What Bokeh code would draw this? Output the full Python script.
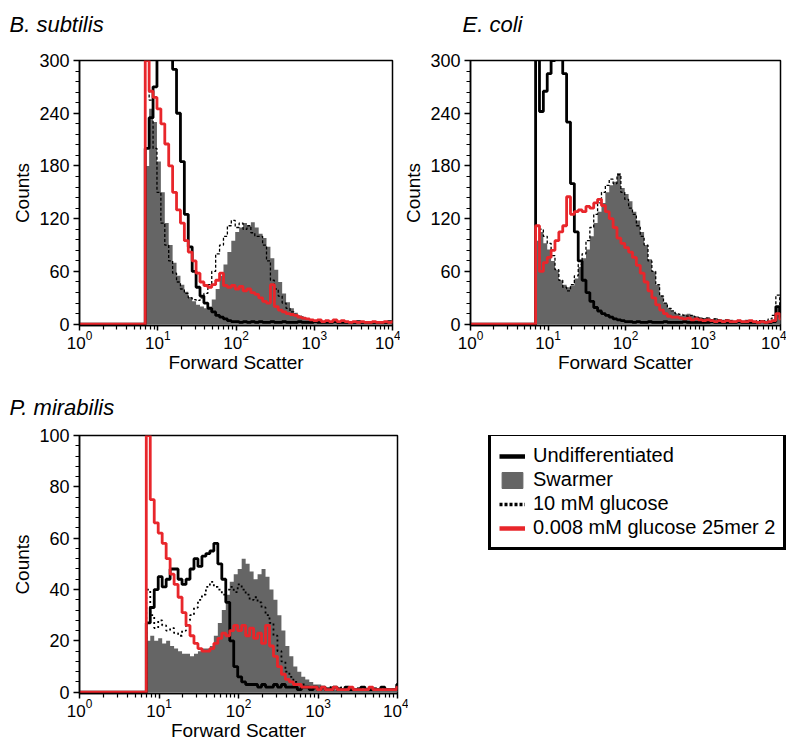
import numpy as np
from bokeh.plotting import figure
from bokeh.layouts import row, column
from bokeh.models import (Range1d, SingleIntervalTicker, FixedTicker, Legend,
                          LegendItem, Title)
from bokeh.embed import file_html
from bokeh.resources import INLINE

# ---------------- data ----------------
# histogram channels (log10 of forward scatter): first channel edge and channel width
channel_start_log = 0.84
channel_width_log = 0.05
acq_min = 1.0  # 10^0, start of acquisition range (counts are zero below the threshold)
decades = [1, 10, 100, 1000, 10000]

titles = ["B. subtilis", "E. coli", "P. mirabilis"]
series_names = ["Undifferentiated", "Swarmer", "10 mM glucose", "0.008 mM glucose 25mer 2"]

bs_undiff = [200,235,270,310,320,325,315,290,240,185, 125,88,60,42,32,24,18,14,10,8,
             6,4,3,3,2,3,2,3,2,3, 2,2,3,2,2,3,2,2,2,3, 2,2,2,3,2,2,2,2,3,2,
             2,2,2,2,3,2,2,2,2,2, 2,2,3,2]
bs_swarmer = [180,245,230,185,150,115,90,70,55,45, 37,31,26,22,20,18,20,28,40,55,
              68,82,95,105,110,115,112,116,110,103, 98,88,75,62,48,35,25,18,13,10,
              8,6,5,4,3,3,2,3,2,2, 3,2,2,2,3,2,2,2,2,2, 2,2,2,2]
bs_glu10 = [310,255,200,150,115,90,72,58,48,40, 35,30,28,27,30,35,45,60,80,90,
            100,112,118,110,115,108,112,104,100,100, 90,72,50,40,32,24,18,14,11,9,
            8,6,5,4,3,3,4,3,2,3, 2,3,2,2,2,3,2,2,2,2, 2,2,2,2]
bs_glu008 = [300,265,258,245,228,205,180,150,130,115, 95,82,72,58,48,44,42,45,50,58,
             44,42,44,40,43,38,40,36,34,30, 26,24,45,20,16,14,12,11,10,8,
             7,6,5,4,5,3,4,3,5,3, 4,3,2,3,2,3,2,2,3,2, 2,3,2,3]

ec_undiff = [320,242,265,285,300,310,305,285,230,160, 105,72,50,36,26,19,15,12,10,8,
             6,5,4,3,3,2,3,2,2,3, 2,2,2,3,2,2,2,2,3,2, 2,2,2,2,2,3,2,2,2,2,
             2,2,3,2,2,2,2,2,3,2, 2,3,20,8]
ec_swarmer = [95,105,92,85,72,62,50,45,42,44, 52,65,75,85,100,115,128,138,150,158,
              162,172,155,148,140,128,118,105,90,74, 60,45,33,24,18,14,12,10,11,12,
              10,9,8,7,8,6,7,6,5,6, 5,4,5,4,5,4,3,4,3,4, 3,5,20,8]
ec_glu10 = [112,108,100,92,78,62,50,42,38,45, 55,68,80,95,110,125,138,150,158,165,
            160,170,150,142,132,125,112,100,90,72, 60,45,32,24,18,15,12,11,10,9,
            10,8,7,6,7,5,6,5,4,5, 4,3,4,3,4,3,3,4,3,4, 6,10,33,12]
ec_glu008 = [112,60,70,76,84,95,105,112,145,125, 128,130,128,134,132,138,142,135,128,120,
             110,98,92,87,82,76,67,58,48,38, 30,22,16,12,9,8,8,7,6,7,
             5,6,5,4,5,4,3,4,3,4, 3,3,4,3,3,4,3,2,3,2, 3,4,12,6]

pm_undiff = [27,33,40,45,41,44,48,48,44,42, 44,48,52,49,53,54,55,58,50,44,
             35,20,10,6,4,3,3,3,2,3, 2,2,3,2,3,2,2,2,1,2, 2,1,2,1,2,1,1,2,1,1,
             2,1,1,1,2,1,1,1,1,2, 1,1,1,3]
pm_swarmer = [20,22,20,21,19,20,18,17,16,15, 15,14,15,16,17,17,18,22,27,32,
              38,43,46,48,52,50,47,44,46,48, 45,40,36,30,24,18,14,10,8,6,
              5,4,3,3,2,2,2,1,2,1, 2,1,1,2,1,1,1,2,1,1, 1,1,1,2]
pm_glu10 = [40,30,25,28,26,24,25,23,22,24, 28,30,33,36,38,41,43,41,40,38,
            40,41,39,42,40,38,36,37,35,33, 30,27,22,16,12,8,6,4,3,3,
            2,2,2,1,2,1,2,1,1,2, 1,1,1,1,2,1,1,1,1,1, 1,1,1,1]
pm_glu008 = [100,75,66,62,58,52,46,42,37,31, 26,22,19,17,16,16,17,19,21,23,
             22,24,26,24,26,22,25,21,23,19, 26,18,14,10,7,5,4,3,3,2,
             2,2,2,1,2,1,1,2,1,1, 1,2,1,1,1,1,2,1,1,1, 1,1,1,2]

y_max = [300, 300, 100]
y_step = [60, 60, 20]

# ---------------- style ----------------
FONT = "Liberation Sans"
GRAY = "#656565"
RED = "#e8262b"


def channel_edges(n):
    return 10 ** (channel_start_log + channel_width_log * np.arange(n + 1))


def step_xy(counts, with_floor=True):
    e = channel_edges(len(counts))
    ys = list(counts) + [counts[-1]]
    xs = list(e)
    if with_floor:
        xs = [acq_min] + xs
        ys = [0] + ys
    return xs, ys


def make_panel(title, data, ymax, ystep, width, height, bl, br, bt, bb,
               dash, dash_w, title_offset, title_gap):
    undiff, swarmer, glu10, glu008 = data
    p = figure(width=width, height=height, x_axis_type="log",
               x_range=Range1d(decades[0], decades[-1]),
               y_range=Range1d(-ymax * 0.005, ymax),
               output_backend="svg", toolbar_location=None,
               min_border_left=bl, min_border_right=br,
               min_border_top=bt, min_border_bottom=bb)
    p.background_fill_color = "white"
    p.border_fill_color = "white"
    p.grid.visible = False
    p.outline_line_color = "black"
    p.outline_line_width = 1.5
    p.outline_line_alpha = 1

    # spacer between frame and panel title, then the title itself
    p.add_layout(Title(text=" ", text_font_size="4px", standoff=title_gap), "above")
    p.add_layout(Title(text=title, text_font=FONT, text_font_size="22px",
                       text_font_style="italic", text_color="black",
                       align="left", offset=title_offset, standoff=8,
                       vertical_align="bottom"), "above")

    # swarmer histogram (filled)
    xs, ys = step_xy(swarmer, with_floor=False)
    p.varea_step(x=xs, y1=[0] * len(xs), y2=ys, step_mode="after",
                 fill_color=GRAY, fill_alpha=1)
    xs, ys = step_xy(glu10)
    p.step(x=xs, y=ys, mode="after", line_color="black", line_width=dash_w,
           line_dash=dash)
    xs, ys = step_xy(undiff)
    p.step(x=xs, y=ys, mode="after", line_color="black", line_width=2.8)
    xs, ys = step_xy(glu008)
    p.step(x=xs, y=ys, mode="after", line_color=RED, line_width=2.8)

    minors = [m * d for d in decades[:-1] for m in range(2, 10)]
    p.xaxis.ticker = FixedTicker(ticks=decades, minor_ticks=minors)
    p.yaxis.ticker = SingleIntervalTicker(interval=ystep, num_minor_ticks=5)

    for ax in (p.xaxis, p.yaxis):
        ax.axis_line_color = "black"
        ax.axis_line_width = 1.5
        ax.major_tick_line_color = "black"
        ax.major_tick_line_width = 1.5
        ax.minor_tick_line_color = "black"
        ax.minor_tick_line_width = 1.2
        ax.major_tick_in = 0
        ax.minor_tick_in = 0
        ax.major_label_text_font = FONT
        ax.major_label_text_color = "black"
        ax.axis_label_text_font = FONT
        ax.axis_label_text_font_style = "normal"
        ax.axis_label_text_font_size = "19px"
        ax.axis_label_text_color = "black"
    p.yaxis.major_tick_out = 6
    p.yaxis.minor_tick_out = 4
    p.xaxis.major_tick_out = 5
    p.xaxis.minor_tick_out = 4
    p.yaxis.major_label_text_font_size = "18px"
    p.xaxis.major_label_text_font_size = "17px"
    p.yaxis.axis_label = "Counts"
    p.xaxis.axis_label = "Forward Scatter"
    p.yaxis.major_label_standoff = 4
    p.xaxis.major_label_standoff = 0
    p.yaxis.axis_label_standoff = 3
    p.xaxis.axis_label_standoff = 0
    return p


# top row: frames at x 79..~390 and ~468..~778, y 60..327
p1 = make_panel(titles[0], (bs_undiff, bs_swarmer, bs_glu10, bs_glu008),
                y_max[0], y_step[0], 400, 375, 79, 8, 60, 48,
                "3 2", 1.3, -70, 13)
p2 = make_panel(titles[1], (ec_undiff, ec_swarmer, ec_glu10, ec_glu008),
                y_max[1], y_step[1], 386, 375, 68, 6, 60, 48,
                "3 2", 1.3, -8, 13)
# bottom row: frame x 79..397, y 435..695
p3 = make_panel(titles[2], (pm_undiff, pm_swarmer, pm_glu10, pm_glu008),
                y_max[2], y_step[2], 408, 368, 79, 11, 60, 48,
                "2 3", 1.8, -70, 5)

# legend panel (same vertical borders as its neighbour so the frames line up)
p4 = figure(width=378, height=368, x_range=Range1d(0, 1), y_range=Range1d(0, 1),
            output_backend="svg", toolbar_location=None,
            min_border_left=0, min_border_right=0, min_border_top=60,
            min_border_bottom=48, x_axis_type=None, y_axis_type=None)
p4.outline_line_color = None
p4.background_fill_color = "white"
p4.border_fill_color = "white"
# legend-only renderers: their single sample lies outside the visible range
off = [5, 6]
r_u = p4.line(x=off, y=off, line_color="black", line_width=4.5)
r_s = p4.quad(left=[5], right=[6], top=[6], bottom=[5], fill_color=GRAY,
              line_color=GRAY)
r_g = p4.line(x=off, y=off, line_color="black", line_width=3.5, line_dash="3 2")
r_r = p4.line(x=off, y=off, line_color=RED, line_width=4.5)
legend = Legend(items=[LegendItem(label=series_names[0], renderers=[r_u]),
                       LegendItem(label=series_names[1], renderers=[r_s]),
                       LegendItem(label=series_names[2], renderers=[r_g]),
                       LegendItem(label=series_names[3], renderers=[r_r])],
                location=(80, 143))
legend.border_line_color = "black"
legend.border_line_width = 3
legend.border_line_alpha = 1
legend.background_fill_color = "white"
legend.background_fill_alpha = 1
legend.label_text_font = FONT
legend.label_text_font_size = "20px"
legend.label_text_color = "black"
legend.glyph_width = 26
legend.glyph_height = 20
legend.label_standoff = 8
legend.label_height = 20
legend.padding = 8
legend.spacing = 1
legend.margin = 0
p4.add_layout(legend)

layout = column(row(p1, p2), row(p3, p4))
open("out.html", "w").write(file_html(layout, INLINE))
